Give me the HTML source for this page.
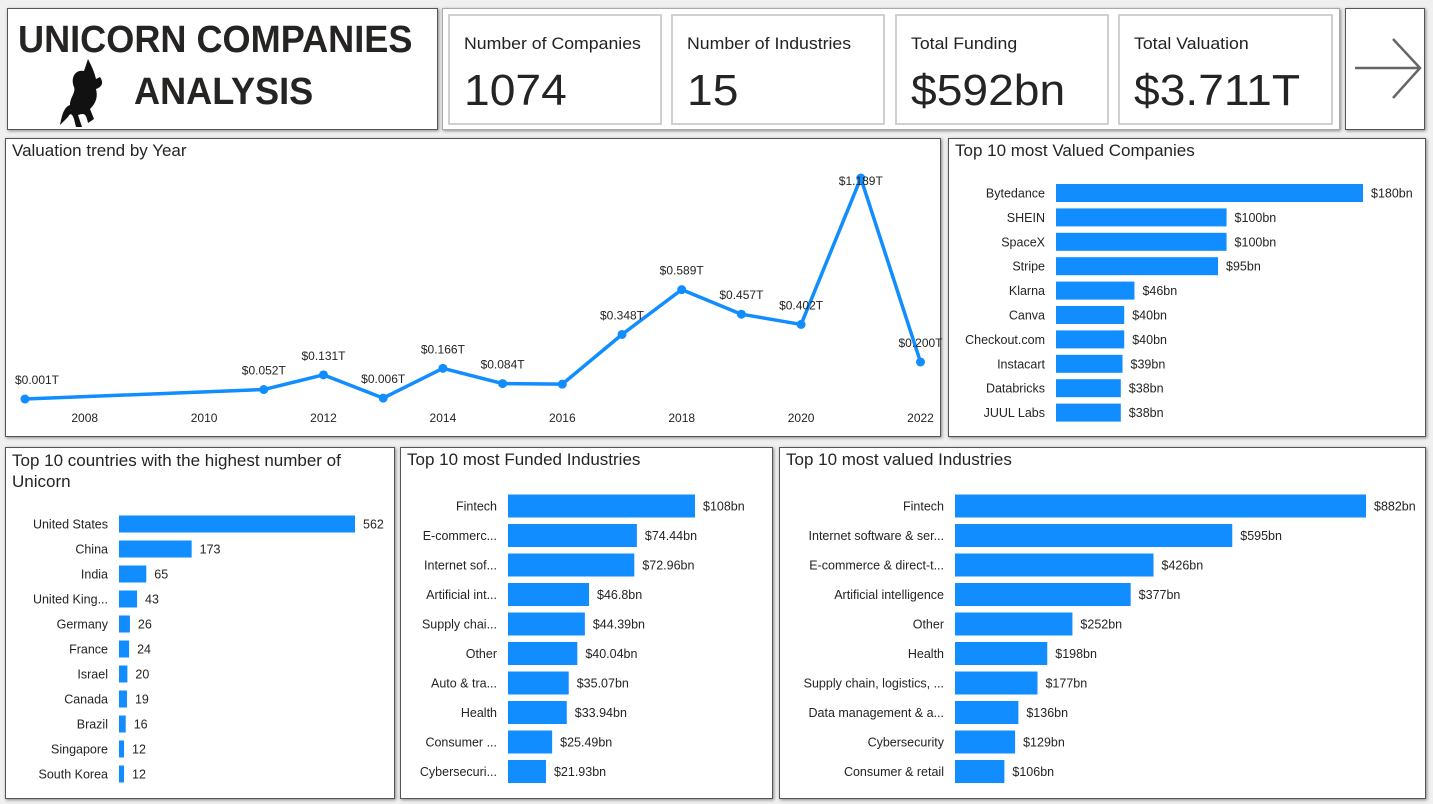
<!DOCTYPE html>
<html><head><meta charset="utf-8">
<style>
body{margin:0;width:1433px;height:804px;background:#f0f0f0;font-family:"Liberation Sans",sans-serif;position:relative;overflow:hidden}
.p{position:absolute;background:#fff;border:1px solid #555;box-sizing:border-box;box-shadow:1px 1px 3px #888}
.card{position:absolute;background:#fff;border:2px solid #d0d0d0;box-sizing:border-box}
.lbl{position:absolute;left:14px;top:18px;font-size:17px;color:#222;transform:scaleX(1.04);transform-origin:left;white-space:nowrap}
.val{position:absolute;left:14px;top:50px;font-size:44px;color:#252423;transform:scaleX(1.05);transform-origin:left;white-space:nowrap}
.ttl{position:absolute;left:6px;top:2px;font-size:17px;color:#252423}
svg{position:absolute;left:0;top:0}
</style></head><body>
<div class="p" style="left:7px;top:8px;width:431px;height:122px">
 <div style="position:absolute;left:10px;top:10px;font-size:38px;font-weight:bold;color:#252423;transform:scaleX(0.95);transform-origin:left;white-space:nowrap">UNICORN COMPANIES</div>
 <div style="position:absolute;left:126px;top:62px;font-size:38px;font-weight:bold;color:#252423;transform:scaleX(0.95);transform-origin:left">ANALYSIS</div>
 <svg width="60" height="70" style="left:48px;top:48px"><path d="M32 2 L28 14 C20 12 14 20 18 30 C20 36 14 40 14 48 C8 50 6 58 4 68 L12 60 C14 56 16 56 18 62 L20 70 L26 70 L22 58 C28 56 30 56 32 66 L38 62 L34 52 C40 46 42 40 40 32 C46 30 48 26 44 20 L40 22 C38 14 36 10 32 2Z" fill="#111"/></svg>
</div>
<div class="p" style="left:442px;top:8px;width:898px;height:122px;border-color:#aaa">
 <div class="card" style="left:5px;top:5px;width:214px;height:111px"><div class="lbl">Number of Companies</div><div class="val">1074</div></div>
 <div class="card" style="left:228px;top:5px;width:214px;height:111px"><div class="lbl">Number of Industries</div><div class="val">15</div></div>
 <div class="card" style="left:452px;top:5px;width:214px;height:111px"><div class="lbl">Total Funding</div><div class="val">$592bn</div></div>
 <div class="card" style="left:675px;top:5px;width:215px;height:111px"><div class="lbl">Total Valuation</div><div class="val">$3.711T</div></div>
</div>
<div class="p" style="left:1345px;top:8px;width:80px;height:122px">
 <svg width="80" height="122"><path d="M9 59 L74 59 M47 30 L74 59 L47 89" stroke="#666" stroke-width="2.5" fill="none"/></svg>
</div>
<div class="p" style="left:5px;top:138px;width:936px;height:299px"><div class="ttl">Valuation trend by Year</div></div>
<div class="p" style="left:948px;top:138px;width:478px;height:299px"><div class="ttl">Top 10 most Valued Companies</div></div>
<div class="p" style="left:5px;top:447px;width:390px;height:352px"><div class="ttl" style="line-height:21px">Top 10 countries with the highest number of Unicorn</div></div>
<div class="p" style="left:400px;top:447px;width:373px;height:352px"><div class="ttl">Top 10 most Funded Industries</div></div>
<div class="p" style="left:779px;top:447px;width:647px;height:352px"><div class="ttl">Top 10 most valued Industries</div></div>
<svg id="c" width="1433" height="804"></svg>
<script>
const years=[2007,2011,2012,2013,2014,2015,2016,2017,2018,2019,2020,2021,2022];
const vals=[0.001,0.052,0.131,0.006,0.166,0.084,0.081,0.348,0.589,0.457,0.402,1.189,0.200];
const valLabels=["$0.001T","$0.052T","$0.131T","$0.006T","$0.166T","$0.084T","","$0.348T","$0.589T","$0.457T","$0.402T","$1.189T","$0.200T"];
const xTicks=[2008,2010,2012,2014,2016,2018,2020,2022];
const compNames=["Bytedance","SHEIN","SpaceX","Stripe","Klarna","Canva","Checkout.com","Instacart","Databricks","JUUL Labs"];
const compVals=[180,100,100,95,46,40,40,39,38,38];
const compLabels=["$180bn","$100bn","$100bn","$95bn","$46bn","$40bn","$40bn","$39bn","$38bn","$38bn"];
const ctryNames=["United States","China","India","United King...","Germany","France","Israel","Canada","Brazil","Singapore","South Korea"];
const ctryVals=[562,173,65,43,26,24,20,19,16,12,12];
const fundNames=["Fintech","E-commerc...","Internet sof...","Artificial int...","Supply chai...","Other","Auto & tra...","Health","Consumer ...","Cybersecuri..."];
const fundVals=[108,74.44,72.96,46.8,44.39,40.04,35.07,33.94,25.49,21.93];
const fundLabels=["$108bn","$74.44bn","$72.96bn","$46.8bn","$44.39bn","$40.04bn","$35.07bn","$33.94bn","$25.49bn","$21.93bn"];
const indNames=["Fintech","Internet software & ser...","E-commerce & direct-t...","Artificial intelligence","Other","Health","Supply chain, logistics, ...","Data management & a...","Cybersecurity","Consumer & retail"];
const indVals=[882,595,426,377,252,198,177,136,129,106];
const indLabels=["$882bn","$595bn","$426bn","$377bn","$252bn","$198bn","$177bn","$136bn","$129bn","$106bn"];

const S=document.getElementById('c');const NS="http://www.w3.org/2000/svg";
function mk(t,a,txt){const e=document.createElementNS(NS,t);for(const k in a)e.setAttribute(k,a[k]);if(txt!==undefined)e.textContent=txt;S.appendChild(e);return e;}
const xs=y=>25+(y-2007)*59.7, ys=v=>399.2-v*186;
let d=years.map((y,i)=>(i?'L':'M')+xs(y)+' '+ys(vals[i])).join(' ');
const ln=mk('path',{d:d,stroke:'#118DFF','stroke-width':3.5,fill:'none','stroke-linejoin':'round'});


years.forEach((y,i)=>{const c=mk('circle',{cx:xs(y),cy:ys(vals[i]),r:4.5,fill:'#118DFF'});


if(valLabels[i]){let lx=Math.max(xs(y),37),ly=Math.max(ys(vals[i])-15,185);
const t=mk('text',{x:lx,y:ly,'text-anchor':'middle','font-size':12,fill:'#252423'},valLabels[i]);

}});
xTicks.forEach(y=>{const t=mk('text',{x:xs(y),y:422,'text-anchor':'middle','font-size':12,fill:'#252423'},y);

});
function bars(names,values,labels,x0,scale,y0,step,h,lx,key){
 names.forEach((n,i)=>{const cy=y0+i*step;
  const l=mk('text',{x:lx,y:cy+4.5,'text-anchor':'end','font-size':12.5,fill:'#252423'},n);
  
  
  const w=values[i]*scale;
  const r=mk('rect',{x:x0,y:cy-h/2,width:w,height:h,fill:'#118DFF'});
  
  
  const v=mk('text',{x:x0+w+8,y:cy+4.5,'font-size':12.5,fill:'#252423'},labels?labels[i]:values[i]);
  
  });
}
bars(compNames,compVals,compLabels,1056,307/180,193,24.4,18,1045,'company');
bars(ctryNames,ctryVals,null,119,236/562,524,25,17,108,'country');
bars(fundNames,fundVals,fundLabels,508,187/108,506,29.5,23,497,'funded-industry');
bars(indNames,indVals,indLabels,955,411/882,506,29.5,23,944,'valued-industry');
</script>
</body></html>
